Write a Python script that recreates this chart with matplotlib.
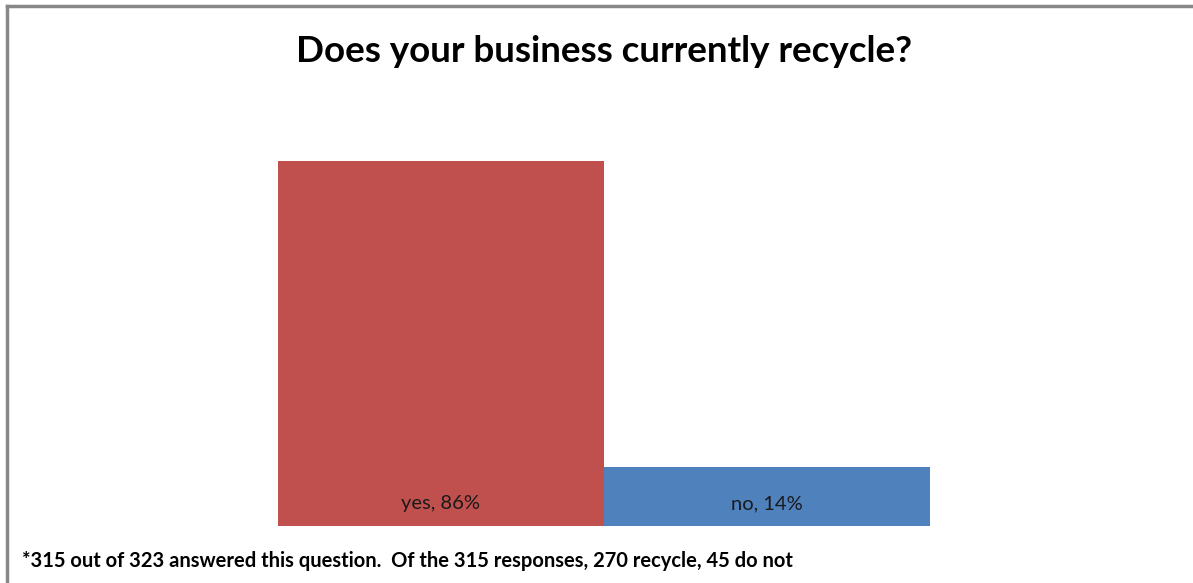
import matplotlib
matplotlib.use('Agg')
import matplotlib.pyplot as plt
from matplotlib.lines import Line2D

answers = ['yes', 'no']
percent = [86, 14]
colors = ['#C0504D', '#4F81BD']

plt.rcParams['font.family'] = ['Lato', 'DejaVu Sans']

fig = plt.figure(figsize=(11.93, 5.83), dpi=100)
ax = fig.add_axes([114.5 / 1193, 57 / 583, 978 / 1193, 424.4 / 583])

bars = ax.bar(range(len(answers)), percent, width=1.0, color=colors, edgecolor='none')
for i, (a, p) in enumerate(zip(answers, percent)):
    ax.text(i, 5.3, f'{a}, {p}%', ha='center', va='center', fontsize=14.5, color='#1a1a1a')

ax.set_xlim(-1, 2)
ax.set_ylim(0, 100)
ax.axis('off')

fig.text(604 / 1193, 1 - 51 / 583, 'Does your business currently recycle?', ha='center', va='center',
         fontsize=26.5, fontweight='bold')
fig.text(22 / 1193, 1 - 561 / 583,
         '*315 out of 323 answered this question.  Of the 315 responses, 270 recycle, 45 do not',
         ha='left', va='center', fontsize=14.5, fontweight='bold')

# frame on top and left edge
fig.add_artist(Line2D([7 / 1193, 1], [1 - 5.5 / 583, 1 - 5.5 / 583], color='#888888', lw=2.5))
fig.add_artist(Line2D([7 / 1193, 7 / 1193], [0, 1 - 5.5 / 583], color='#888888', lw=2.5))

fig.savefig('out.png', dpi=100)
